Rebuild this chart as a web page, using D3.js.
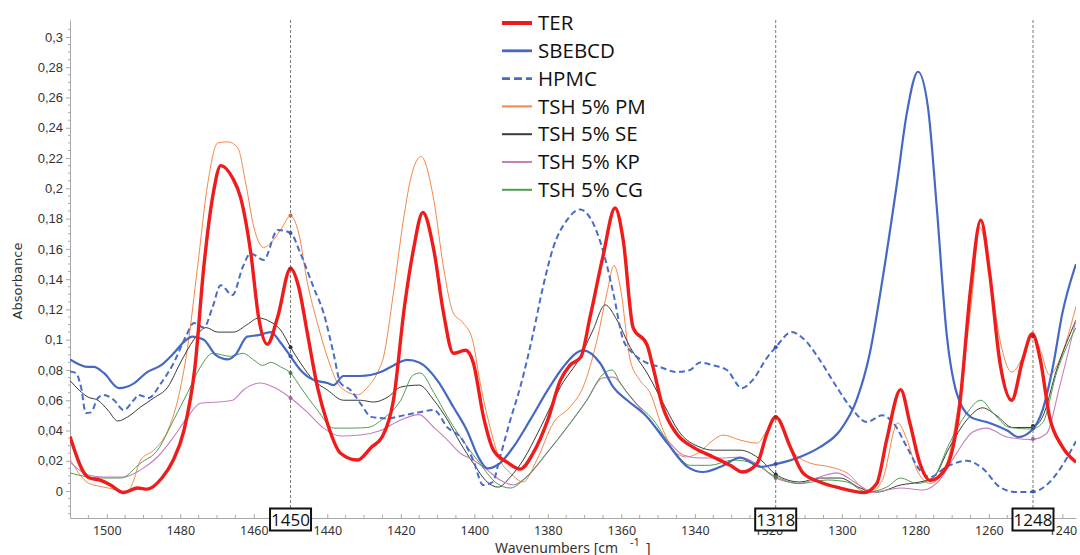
<!DOCTYPE html>
<html>
<head>
<meta charset="utf-8">
<script src="https://cdn.jsdelivr.net/npm/d3@7"></script>
<style>
body { margin: 0; background: #fff; }
</style>
</head>
<body>
<div id="chart"></div>
<script>
// [wavenumber, absorbance]
const ter = [[1510,0.036],[1505,0.009],[1501.6,0.007],[1499,0.004],[1495.4,-0.001],[1491.6,0.002],[1489,0.0013],[1485,0.0086],[1482,0.02],[1479,0.04],[1476,0.082],[1473.6,0.148],[1471,0.197],[1469,0.215],[1465.8,0.207],[1463.6,0.194],[1460.8,0.157],[1458.7,0.115],[1456.3,0.097],[1453.5,0.115],[1450,0.147],[1447.8,0.135],[1445.4,0.104],[1442.7,0.069],[1440,0.045],[1436.4,0.025],[1431.8,0.0205],[1428,0.029],[1425,0.036],[1422,0.06],[1419,0.122],[1416.6,0.159],[1414,0.184],[1411,0.159],[1408.4,0.118],[1405.7,0.091],[1402.4,0.093],[1400.3,0.085],[1397.5,0.049],[1394.8,0.027],[1391,0.019],[1387.5,0.0145],[1384,0.025],[1380,0.047],[1376.6,0.073],[1374,0.083],[1371,0.0886],[1368.5,0.115],[1365,0.155],[1361.7,0.187],[1359.5,0.166],[1356.8,0.108],[1353,0.0965],[1351.4,0.082],[1348.7,0.0555],[1345,0.038],[1340.5,0.029],[1335,0.0225],[1330.4,0.017],[1327,0.0126],[1323,0.0185],[1320.4,0.038],[1318,0.049],[1314,0.029],[1310.6,0.012],[1306,0.006],[1300.5,0.002],[1294,-0.001],[1290.5,0.005],[1287.8,0.034],[1284,0.067],[1281.5,0.045],[1278.8,0.0185],[1276,0.007],[1271.5,0.016],[1268,0.0555],[1265,0.133],[1262.2,0.179],[1259.8,0.144],[1257,0.085],[1253.8,0.06],[1250.8,0.0866],[1248.2,0.104],[1246,0.0866],[1243.5,0.049],[1240.2,0.03],[1236.3,0.019]];

const sbebcd = [[1510,0.087],[1505,0.082],[1503.5,0.082],[1500.8,0.078],[1496.7,0.068],[1492.7,0.071],[1489,0.0786],[1485.3,0.083],[1481.8,0.091],[1479,0.0985],[1476.7,0.102],[1473.6,0.1],[1470.4,0.09],[1467,0.087],[1465,0.09],[1461.8,0.102],[1458.7,0.103],[1455.4,0.105],[1452.7,0.098],[1450,0.089],[1447.3,0.08],[1443.8,0.0735],[1440,0.0714],[1438.3,0.07],[1435.6,0.076],[1431,0.076],[1425.5,0.0786],[1422,0.083],[1418.2,0.0866],[1415,0.085],[1410,0.073],[1405.7,0.0555],[1402,0.04],[1398.9,0.0225],[1396.5,0.015],[1393,0.0185],[1389.4,0.029],[1384.8,0.047],[1380,0.0668],[1375.8,0.082],[1370.4,0.093],[1365.8,0.0846],[1362.2,0.0687],[1358.4,0.06],[1353,0.049],[1347.5,0.0317],[1342,0.016],[1337.8,0.0126],[1333,0.016],[1327.7,0.022],[1322,0.016],[1318,0.0178],[1311.4,0.0225],[1306,0.029],[1300.5,0.04],[1296,0.06],[1292.4,0.091],[1289,0.139],[1285,0.2035],[1282.3,0.25],[1279.3,0.277],[1276.6,0.254],[1274.2,0.188],[1271.5,0.104],[1268.8,0.065],[1265,0.049],[1259.8,0.045],[1255,0.04],[1252,0.0357],[1248.4,0.04],[1245.4,0.0535],[1242.6,0.082],[1240,0.1176],[1236.3,0.15]];

const hpmc = [[1510,0.079],[1508.4,0.078],[1507,0.0687],[1505.7,0.0515],[1504.3,0.052],[1502.4,0.0615],[1500.8,0.0635],[1498,0.06],[1495.4,0.0535],[1492.7,0.06],[1491.3,0.0635],[1488.6,0.0615],[1485.3,0.071],[1481.8,0.0846],[1478.5,0.102],[1476.3,0.111],[1473.6,0.108],[1471.2,0.1216],[1469,0.136],[1465.8,0.1295],[1463,0.148],[1460.9,0.157],[1457.3,0.1527],[1453.5,0.1725],[1450,0.1705],[1447.3,0.157],[1443.8,0.135],[1441,0.1176],[1438.3,0.091],[1436.4,0.0714],[1433.7,0.0668],[1431,0.058],[1428,0.049],[1423.6,0.048],[1419.3,0.05],[1415,0.052],[1411,0.0535],[1407.3,0.042],[1403.8,0.0357],[1400.3,0.0205],[1397.6,0.004],[1395,0.006],[1393,0.0225],[1390.2,0.047],[1387.5,0.0687],[1384,0.104],[1381.3,0.135],[1378.5,0.161],[1374.8,0.179],[1371.2,0.186],[1367.7,0.177],[1365,0.159],[1362.2,0.131],[1359.5,0.1],[1356.8,0.091],[1353,0.0846],[1349.5,0.082],[1345,0.0787],[1341.3,0.08],[1338.6,0.085],[1335,0.083],[1331.3,0.08],[1327.2,0.068],[1324.2,0.0735],[1320.4,0.088],[1318,0.095],[1313.6,0.105],[1310.6,0.101],[1306,0.0866],[1301.4,0.0687],[1297,0.0535],[1293.2,0.0456],[1289,0.05],[1286,0.045],[1282.3,0.029],[1278.8,0.0139],[1276,0.0093],[1271.5,0.016],[1266,0.02],[1261.7,0.015],[1257,0.0026],[1252.5,-0.0007],[1248.4,-0.0007],[1244.3,0.004],[1240.8,0.014],[1236.3,0.033]];

const pm = [[1510,0.021],[1505,0.0053],[1500.8,0.0026],[1497,0.0007],[1494.3,-0.0007],[1493,0.005],[1490.8,0.0205],[1487.2,0.027],[1483.4,0.04],[1480.7,0.06],[1478,0.095],[1475.3,0.148],[1472.5,0.2035],[1469.8,0.23],[1467.1,0.2307],[1464.4,0.227],[1462.2,0.2035],[1460,0.1745],[1457.3,0.161],[1454.6,0.166],[1452.2,0.1745],[1450,0.182],[1447.8,0.1705],[1445.4,0.1375],[1442.7,0.111],[1440,0.0886],[1437.2,0.0714],[1434.5,0.0654],[1431.8,0.0635],[1429,0.0687],[1426.4,0.078],[1424.7,0.0886],[1422,0.131],[1419.3,0.179],[1417.4,0.2055],[1414.5,0.221],[1411,0.192],[1408.4,0.148],[1405.7,0.1176],[1403,0.111],[1400.5,0.1],[1398.4,0.0714],[1395.7,0.042],[1393,0.0205],[1390.2,0.012],[1386.7,0.006],[1383,0.0205],[1378.5,0.045],[1374,0.0555],[1370.4,0.0687],[1366.6,0.1],[1363.9,0.131],[1362,0.149],[1360.3,0.135],[1357.6,0.0866],[1355,0.0734],[1352.2,0.065],[1348.6,0.04],[1345,0.025],[1342.2,0.0225],[1338.6,0.026],[1335,0.0337],[1332.3,0.037],[1327.7,0.0337],[1323,0.0317],[1320.4,0.04],[1318,0.048],[1313.3,0.026],[1308.7,0.0185],[1303.3,0.016],[1298.6,0.012],[1292.4,-0.001],[1289,0.007],[1284.8,0.045],[1282.3,0.034],[1279.6,0.014],[1276,0.005],[1271.5,0.0185],[1268,0.062],[1264.7,0.126],[1262.5,0.1745],[1259.8,0.144],[1257,0.1],[1253.8,0.0787],[1250.8,0.0886],[1248.4,0.104],[1246,0.093],[1243.5,0.0767],[1240.8,0.0866],[1236.3,0.122]];

const se = [[1510,0.073],[1505,0.062],[1502.4,0.06],[1499.7,0.0535],[1497,0.0463],[1494.3,0.049],[1490.8,0.0555],[1487.2,0.0615],[1483.4,0.0687],[1480,0.0846],[1476.3,0.1],[1473,0.108],[1469.8,0.105],[1465.5,0.105],[1461.8,0.11],[1458.7,0.1143],[1455.4,0.1117],[1452.7,0.1064],[1450,0.095],[1447.3,0.0846],[1443.8,0.0734],[1440,0.0668],[1435.6,0.06],[1431,0.06],[1427.4,0.0588],[1423.6,0.062],[1420,0.0687],[1415,0.07],[1411,0.06],[1407.3,0.047],[1403.8,0.0317],[1400.3,0.0185],[1396.5,0.006],[1393.5,0.0026],[1390.2,0.0093],[1386.7,0.0205],[1382,0.042],[1376.6,0.0687],[1371.2,0.0886],[1367.7,0.1064],[1364.4,0.123],[1361.2,0.113],[1357.6,0.095],[1353,0.078],[1348.6,0.058],[1344,0.0383],[1338.6,0.029],[1335,0.027],[1327.7,0.027],[1322,0.0205],[1318,0.011],[1311.4,0.006],[1306,0.0086],[1300.5,0.0086],[1295,0.002],[1290.5,-0.0007],[1284,0.004],[1278.8,0.006],[1275.3,0.0086],[1270.7,0.029],[1266,0.047],[1261.7,0.055],[1258,0.05],[1253.5,0.042],[1248.4,0.042],[1245.4,0.049],[1241.6,0.08],[1236.3,0.113]];

const kp = [[1510,0.019],[1505,0.0106],[1500.8,0.0093],[1495.4,0.0093],[1490.8,0.014],[1486.2,0.0225],[1481.8,0.0357],[1478,0.049],[1474.5,0.058],[1469.8,0.0588],[1465.8,0.06],[1462.8,0.0668],[1458.2,0.0714],[1454.6,0.0687],[1450,0.0615],[1445.4,0.052],[1441,0.0416],[1436.4,0.0364],[1431,0.037],[1425.5,0.04],[1420,0.047],[1415,0.0505],[1411,0.042],[1407.3,0.0337],[1403.8,0.025],[1400.3,0.0205],[1396.5,0.014],[1393,0.0073],[1389.4,0.004],[1385.8,0.0093],[1380.3,0.025],[1374.8,0.042],[1369.4,0.06],[1365.2,0.0747],[1362.2,0.0753],[1358.4,0.065],[1353,0.049],[1347.5,0.0337],[1343.2,0.0238],[1338.6,0.0218],[1333,0.0218],[1327.7,0.0225],[1322,0.016],[1318,0.0086],[1311.4,0.005],[1306,0.0093],[1301.4,0.012],[1296,0.005],[1291.6,-0.0007],[1284,0.002],[1278,0.0007],[1273.4,0.0073],[1268.8,0.025],[1264.4,0.039],[1260.6,0.0416],[1255,0.0357],[1248.4,0.034],[1244.3,0.038],[1240.8,0.0687],[1236.3,0.113]];

const cg = [[1510,0.012],[1505,0.0093],[1500.8,0.0086],[1496.2,0.0086],[1490.8,0.0185],[1486.2,0.027],[1481.8,0.047],[1478,0.065],[1474.5,0.082],[1471.2,0.091],[1466.3,0.089],[1463,0.091],[1460,0.0866],[1457.6,0.083],[1455.4,0.085],[1452.7,0.082],[1450,0.078],[1447.3,0.0687],[1442.7,0.0535],[1438.3,0.0416],[1432.9,0.0416],[1429,0.042],[1424.7,0.048],[1420,0.06],[1416.6,0.0767],[1414.7,0.078],[1411,0.065],[1407.3,0.049],[1403.8,0.0357],[1399.2,0.0205],[1393.8,0.005],[1390.2,0.002],[1385.8,0.0093],[1380.3,0.025],[1374.8,0.042],[1369.4,0.06],[1365.2,0.0767],[1362.5,0.08],[1360.3,0.0714],[1356.8,0.06],[1351.3,0.047],[1345.8,0.027],[1341.3,0.017],[1335.9,0.017],[1329.6,0.0205],[1324.2,0.0185],[1318,0.0095],[1311.4,0.005],[1304,0.0073],[1298.6,0.006],[1293.2,-0.0007],[1287.8,0.0026],[1284,0.0086],[1279.6,0.005],[1275.3,0.0086],[1270.7,0.0317],[1266,0.0515],[1262.2,0.06],[1259,0.052],[1254.3,0.042],[1248.4,0.041],[1245.4,0.045],[1241.6,0.078],[1236.3,0.108]];

const seriesNames = ["TER", "SBEBCD", "HPMC", "TSH 5% PM", "TSH 5% SE", "TSH 5% KP", "TSH 5% CG"];
const seriesData = [ter, sbebcd, hpmc, pm, se, kp, cg];
const markerWavenumbers = [1450, 1318, 1248];
const xTickValues = [1500, 1480, 1460, 1440, 1420, 1400, 1380, 1360, 1340, 1320, 1300, 1280, 1260, 1240];
const yTickValues = [0, 0.02, 0.04, 0.06, 0.08, 0.1, 0.12, 0.14, 0.16, 0.18, 0.2, 0.22, 0.24, 0.26, 0.28, 0.3];

// look of each series
const styles = {
	"TER": { color: "#f01c1c", width: 3.4, dash: null },
	"SBEBCD": { color: "#4468c4", width: 2.2, dash: null },
	"HPMC": { color: "#4a6cc8", width: 2, dash: "6,3.5" },
	"TSH 5% PM": { color: "#f4874a", width: 1, dash: null },
	"TSH 5% SE": { color: "#3a3a3a", width: 1, dash: null },
	"TSH 5% KP": { color: "#c77dc0", width: 1.1, dash: null },
	"TSH 5% CG": { color: "#4f9d4f", width: 1, dash: null }
};

const width = 1080;
const height = 555;
const plot = { left: 70, right: 1076, top: 20, bottom: 518 };

const x = d3.scaleLinear().domain([1510, 1236.3]).range([plot.left, plot.right]);
const y = d3.scaleLinear().domain([-0.0178, 0.3112]).range([plot.bottom, plot.top]);

const fmt = (v) => (Math.round(v * 1000) / 1000).toString().replace(".", ",");

const svg = d3.select("#chart").append("svg")
	.attr("width", width)
	.attr("height", height)
	.style("font-family", "'DejaVu Sans', sans-serif");

svg.append("defs").append("clipPath").attr("id", "plotClip")
	.append("rect")
	.attr("x", plot.left).attr("y", plot.top)
	.attr("width", plot.right - plot.left).attr("height", plot.bottom - plot.top);

// y axis
const yAxis = svg.append("g").attr("transform", `translate(${plot.left},0)`);
yAxis.call(d3.axisLeft(y).tickValues(yTickValues).tickFormat(fmt).tickSize(4).tickSizeOuter(0));
yAxis.selectAll("text").attr("font-size", 13).attr("fill", "#333").attr("x", -7);
yAxis.append("g").selectAll("line")
	.data(d3.range(-0.015, 0.31, 0.005).filter((v) => Math.abs(Math.round(v * 50) - v * 50) > 1e-6))
	.join("line")
	.attr("x1", -2).attr("x2", 0)
	.attr("y1", (d) => y(d)).attr("y2", (d) => y(d))
	.attr("stroke", "#aaa");

// x axis, ticks point into the plot
const xAxis = svg.append("g").attr("transform", `translate(0,${plot.bottom})`);
xAxis.call(d3.axisBottom(x).tickValues(xTickValues).tickFormat((d) => d).tickSize(-4).tickSizeOuter(0));
xAxis.selectAll("text")
	.attr("font-size", 12.5)
	.attr("font-family", "'Noto Sans', sans-serif")
	.attr("fill", "#333")
	.attr("y", 8)
	.attr("dy", "0.71em");
xAxis.append("g").selectAll("line")
	.data(d3.range(1505, 1236, -5).filter((v) => v % 20 !== 0))
	.join("line")
	.attr("x1", (d) => x(d)).attr("x2", (d) => x(d))
	.attr("y1", 0).attr("y2", -3)
	.attr("stroke", "#aaa");

svg.selectAll(".domain").attr("stroke", "#a8a8a8");
svg.selectAll(".tick line").attr("stroke", "#a8a8a8");

// axis titles
svg.append("text")
	.attr("transform", `translate(22,${(plot.top + plot.bottom) / 2 + 12}) rotate(-90)`)
	.attr("text-anchor", "middle")
	.attr("font-size", 13)
	.attr("fill", "#333")
	.text("Absorbance");

const xTitle = svg.append("text")
	.attr("x", 495).attr("y", 553)
	.attr("font-size", 14)
	.attr("font-family", "'Noto Sans', sans-serif")
	.attr("fill", "#333")
	.text("Wavenumbers [cm");
xTitle.append("tspan").attr("x", 630).attr("dy", -7).attr("font-size", 11).text("-1");
xTitle.append("tspan").attr("x", 646).attr("dy", 7).text("]");

// marker lines
svg.append("g").selectAll("line")
	.data(markerWavenumbers)
	.join("line")
	.attr("x1", (d) => x(d)).attr("x2", (d) => x(d))
	.attr("y1", plot.top).attr("y2", 508)
	.attr("stroke", "#777")
	.attr("stroke-width", 1)
	.attr("stroke-dasharray", "3,2");

// spectra
const line = d3.line()
	.x((d) => x(d[0]))
	.y((d) => y(d[1]))
	.curve(d3.curveMonotoneX);

const drawOrder = ["TSH 5% PM", "TSH 5% SE", "TSH 5% KP", "TSH 5% CG", "HPMC", "SBEBCD", "TER"];
const lines = svg.append("g").attr("clip-path", "url(#plotClip)");
drawOrder.forEach((name) => {
	const data = seriesData[seriesNames.indexOf(name)];
	const s = styles[name];
	lines.append("path")
		.datum(data)
		.attr("fill", "none")
		.attr("stroke", s.color)
		.attr("stroke-width", s.width)
		.attr("stroke-linejoin", "round")
		.attr("stroke-dasharray", s.dash)
		.attr("d", line);
});

// value of a series at a wavenumber (linear between read points)
function valueAt(data, w) {
	for (let i = 0; i < data.length - 1; i++) {
		const a = data[i], b = data[i + 1];
		if (w <= a[0] && w >= b[0]) {
			const t = (a[0] - w) / (a[0] - b[0]);
			return a[1] + t * (b[1] - a[1]);
		}
	}
	return null;
}

// dots where the spectra cross the marker lines
const dots = svg.append("g");
markerWavenumbers.forEach((w) => {
	drawOrder.forEach((name) => {
		const v = valueAt(seriesData[seriesNames.indexOf(name)], w);
		if (v === null) return;
		dots.append("circle")
			.attr("cx", x(w)).attr("cy", y(v))
			.attr("r", 2)
			.attr("fill", d3.color(styles[name].color).darker(0.6));
	});
});

// marker label boxes
const boxes = svg.append("g").selectAll("g")
	.data(markerWavenumbers)
	.join("g")
	.attr("transform", (d) => `translate(${x(d)},519.5)`);
boxes.append("rect")
	.attr("x", -20.5).attr("y", -11)
	.attr("width", 41).attr("height", 22)
	.attr("fill", "#fff")
	.attr("stroke", "#111")
	.attr("stroke-width", 2);
boxes.append("text")
	.attr("text-anchor", "middle")
	.attr("dy", "0.36em")
	.attr("font-size", 17)
	.attr("font-family", "'Open Sans', sans-serif")
	.attr("fill", "#111")
	.text((d) => d);

// legend
const legend = svg.append("g")
	.attr("transform", "translate(502,23)")
	.style("font-family", "'Open Sans', sans-serif");
const rows = legend.selectAll("g")
	.data(seriesNames)
	.join("g")
	.attr("transform", (d, i) => `translate(0,${i * 27.8})`);
rows.append("line")
	.attr("x1", 0).attr("x2", 30)
	.attr("stroke", (d) => styles[d].color)
	.attr("stroke-width", (d) => (styles[d].width > 1.5 ? styles[d].width + 0.6 : 2))
	.attr("stroke-dasharray", (d) => (styles[d].dash ? "8,4" : null));
rows.append("text")
	.attr("x", 36)
	.attr("dy", "0.35em")
	.attr("font-size", 20.5)
	.attr("fill", "#111")
	.text((d) => d);
</script>
</body>
</html>
